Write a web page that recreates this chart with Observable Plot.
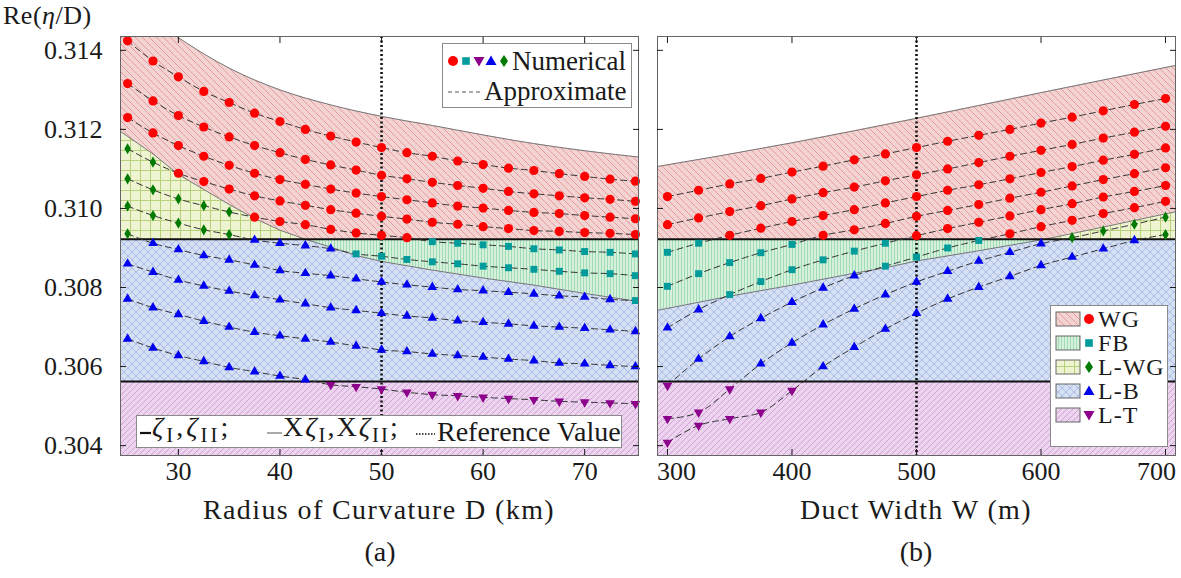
<!DOCTYPE html>
<html><head><meta charset="utf-8">
<script src="https://cdn.jsdelivr.net/npm/d3@7"></script>
<script src="https://cdn.jsdelivr.net/npm/@observablehq/plot@0.6"></script>
<style>
body{margin:0;background:#fff;}
#fig{position:relative;width:1181px;height:578px;font-family:"Liberation Serif","DejaVu Serif",serif;color:#1a1a1a;overflow:hidden}
.abs{position:absolute;white-space:nowrap}
.lg{position:absolute;background:#fff;border:1px solid #8a8a8a;box-sizing:border-box}
.row{display:flex;align-items:center}
.lg3 sub{font-size:0.74em;vertical-align:-0.3em}
</style></head><body>
<svg width="0" height="0" style="position:absolute"><defs>
<pattern id="pWG" width="7" height="7" patternUnits="userSpaceOnUse"><rect width="7" height="7" fill="#f3d2d2"/><path d="M0,0L7,7" stroke="#e39696" stroke-width="0.9"/></pattern>
<pattern id="pLT" width="6" height="6" patternUnits="userSpaceOnUse"><rect width="6" height="6" fill="#ecd4ef"/><path d="M0,6L6,0" stroke="#d09ad8" stroke-width="0.9"/></pattern>
<pattern id="pFB" width="3" height="3" patternUnits="userSpaceOnUse"><rect width="3" height="3" fill="#d5f1db"/><path d="M1.5,0V3" stroke="#93d6aa" stroke-width="0.8"/></pattern>
<pattern id="pLWG" width="10" height="10" patternUnits="userSpaceOnUse"><rect width="10" height="10" fill="#eef4d2"/><path d="M0,0.5H10M0.5,0V10" stroke="#b8d27a" stroke-width="1"/></pattern>
<pattern id="pLB" width="8" height="8" patternUnits="userSpaceOnUse"><rect width="8" height="8" fill="#d6e0f3"/><path d="M0,0L8,8M8,0L0,8" stroke="#90a8e0" stroke-width="0.6"/></pattern>
</defs></svg>
<div id="fig"></div>
<script>
// ---------- data ----------
const yDomain = [0.30375, 0.31435];
const yTicks = [0.304, 0.306, 0.308, 0.310, 0.312, 0.314];
const zetaI = 0.30922;   // upper threshold line
const zetaII = 0.30562;  // lower threshold line

// Panel (a): Radius of curvature D (km)
const radiusKm = [25,27.5,30,32.5,35,37.5,40,42.5,45,47.5,50,52.5,55,57.5,60,62.5,65,67.5,70,72.5,75];
const radiusTicks = [30,40,50,60,70];
const radiusRef = 50;
const seriesA = [
  [0.31424,0.31373,0.31333,0.31296,0.31268,0.31241,0.31220,0.31200,0.31183,0.31168,0.31154,0.31141,0.31132,0.31120,0.31111,0.31102,0.31096,0.31088,0.31081,0.31074,0.31069],
  [0.31316,0.31272,0.31235,0.31206,0.31181,0.31159,0.31141,0.31124,0.31110,0.31097,0.31084,0.31075,0.31066,0.31058,0.31051,0.31043,0.31037,0.31032,0.31027,0.31023,0.31018],
  [0.31230,0.31191,0.31159,0.31132,0.31109,0.31089,0.31073,0.31061,0.31049,0.31039,0.31030,0.31022,0.31014,0.31006,0.31001,0.30995,0.30990,0.30987,0.30982,0.30978,0.30974],
  [0.31151,0.31117,0.31089,0.31068,0.31049,0.31032,0.31019,0.31008,0.30997,0.30988,0.30980,0.30973,0.30965,0.30960,0.30954,0.30949,0.30944,0.30942,0.30939,0.30937,0.30934],
  [0.31075,0.31047,0.31024,0.31007,0.30991,0.30978,0.30967,0.30959,0.30947,0.30938,0.30932,0.30926,0.30916,0.30912,0.30908,0.30904,0.30898,0.30895,0.30891,0.30889,0.30885],
  [0.31006,0.30982,0.30963,0.30946,0.30934,0.30920,0.30912,0.30906,0.30898,0.30885,0.30879,0.30871,0.30865,0.30860,0.30854,0.30850,0.30846,0.30841,0.30837,0.30835,0.30830],
  [0.30936,0.30912,0.30896,0.30881,0.30870,0.30857,0.30843,0.30836,0.30830,0.30822,0.30814,0.30807,0.30801,0.30795,0.30792,0.30788,0.30784,0.30779,0.30776,0.30770,0.30767],
  [0.30860,0.30839,0.30819,0.30804,0.30791,0.30780,0.30769,0.30759,0.30749,0.30742,0.30735,0.30728,0.30723,0.30716,0.30712,0.30708,0.30703,0.30700,0.30697,0.30693,0.30689],
  [0.30771,0.30749,0.30732,0.30715,0.30700,0.30687,0.30678,0.30670,0.30662,0.30652,0.30642,0.30638,0.30632,0.30628,0.30624,0.30619,0.30615,0.30609,0.30607,0.30603,0.30600],
  [0.30670,0.30647,0.30628,0.30613,0.30598,0.30587,0.30576,0.30567,0.30554,0.30549,0.30543,0.30535,0.30529,0.30526,0.30522,0.30519,0.30516,0.30512,0.30510,0.30508,0.30506]
];
// regime of each numerical point: W=WG, F=FB, G=L-WG, B=L-B, T=L-T
const regimesA = [
  "WWWWWWWWWWWWWWWWWWWWW",
  "WWWWWWWWWWWWWWWWWWWWW",
  "WWWWWWWWWWWWWWWWWWWWW",
  "GGWWWWWWWWWWWWWWWWWWW",
  "GGGGGWWWWWWWFFFFFFFFF",
  "GGGGGBBBBFFFFFFFFFFFF",
  "GBBBBBBBBBBBBBBBBBBBF",
  "BBBBBBBBBBBBBBBBBBBBB",
  "BBBBBBBBBBBBBBBBBBBBB",
  "BBBBBBBBTTTTTTTTTTTTT"
];
const topEdgeA_x = [24, 30, 35, 40, 45, 50, 55, 60, 65, 70, 76];
const topEdgeA_y = [0.31545,0.31432,0.31355,0.31300,0.31262,0.31233,0.31210,0.31186,0.31164,0.31146,0.31128];
const splitEdgeA_x = [24, 27.5, 30, 32.5, 35, 37.5, 40, 42.5, 45, 47.5, 50, 55, 60, 65, 70, 76];
const splitEdgeA_y = [0.31200,0.31138,0.31086,0.31048,0.31010,0.30975,0.30945,0.30922,0.30902,0.30881,0.30866,0.30844,0.30824,0.30806,0.30785,0.30762];

// Panel (b): Duct width W (m)
const widthM = [300,325,350,375,400,425,450,475,500,525,550,575,600,625,650,675,700];
const widthTicks = [300,400,500,600,700];
const widthRef = 500;
const seriesB = [
  [0.31030,0.31046,0.31062,0.31076,0.31092,0.31107,0.31123,0.31138,0.31154,0.31170,0.31185,0.31200,0.31216,0.31231,0.31247,0.31263,0.31278],
  [0.30959,0.30976,0.30992,0.31007,0.31024,0.31040,0.31054,0.31070,0.31085,0.31100,0.31116,0.31132,0.31147,0.31162,0.31178,0.31193,0.31208],
  [0.30889,0.30912,0.30932,0.30950,0.30967,0.30982,0.30997,0.31014,0.31030,0.31046,0.31060,0.31075,0.31091,0.31106,0.31122,0.31137,0.31153],
  [0.30803,0.30835,0.30863,0.30888,0.30909,0.30932,0.30946,0.30962,0.30980,0.30995,0.31010,0.31026,0.31041,0.31057,0.31073,0.31088,0.31103],
  [0.30698,0.30744,0.30782,0.30815,0.30845,0.30870,0.30892,0.30912,0.30931,0.30949,0.30965,0.30981,0.30997,0.31012,0.31029,0.31043,0.31058],
  [0.30552,0.30619,0.30676,0.30722,0.30763,0.30799,0.30830,0.30854,0.30877,0.30900,0.30919,0.30936,0.30954,0.30970,0.30987,0.31002,0.31018],
  [0.30468,0.30484,0.30543,0.30607,0.30660,0.30706,0.30746,0.30782,0.30814,0.30841,0.30867,0.30889,0.30911,0.30926,0.30943,0.30960,0.30978],
  [0.30408,0.30451,0.30468,0.30484,0.30539,0.30600,0.30649,0.30695,0.30735,0.30771,0.30801,0.30828,0.30856,0.30877,0.30898,0.30919,0.30934]
];
const regimesB = [
  "WWWWWWWWWWWWWWWWW",
  "WWWWWWWWWWWWWWWWW",
  "FFWWWWWWWWWWWWWWW",
  "FFFFFWWWWWWWWWWWW",
  "BBFFFFFFWWWWWWWWW",
  "TBBBBBBFFFFWWWWWW",
  "TTTBBBBBBBBBBGGGG",
  "TTTTTBBBBBBBBBBBG"
];
const topEdgeB_x = [290, 400, 500, 600, 710];
const topEdgeB_y = [0.31105,0.31166,0.31228,0.31293,0.31363];
const splitEdgeB_x = [290, 350, 400, 450, 475, 500, 550, 603, 650, 710];
const splitEdgeB_y = [0.30741,0.30778,0.30806,0.30836,0.30850,0.30867,0.30893,0.30922,0.30953,0.30993];

// ---------- styles ----------
const triDown = {draw(ctx, size) {
  const y = -Math.sqrt(size / (Math.sqrt(3) * 3));
  ctx.moveTo(0, -y * 2); ctx.lineTo(-Math.sqrt(3) * y, y); ctx.lineTo(Math.sqrt(3) * y, y); ctx.closePath();
}};
const regimes = {
  W: {name: "WG",   color: "#ff0000", symbol: "circle",   r: 4.6, pattern: "pWG"},
  F: {name: "FB",   color: "#009b9b", symbol: "square",   r: 3.9, pattern: "pFB"},
  G: {name: "L-WG", color: "#007a00", symbol: "diamond",  r: 3.4, pattern: "pLWG"},
  B: {name: "L-B",  color: "#0000f0", symbol: "triangle", r: 3.6, pattern: "pLB"},
  T: {name: "L-T",  color: "#8c008c", symbol: triDown,    r: 3.6, pattern: "pLT"}
};

function panel({xDomain, xs, series, regs, topX, topY, splitX, splitY, xTicks, refX, width, marginLeft, marginRight, yLabels, edgeShift}) {
  const rows = [];
  series.forEach((vals, k) => vals.forEach((v, i) => rows.push({curve: k, x: xs[i], y: v, reg: regs[k][i]})));
  const top = topX.map((x, i) => ({x, y: topY[i]}));
  const split = splitX.map((x, i) => ({x, b: splitY[i]}));
  const span = xDomain.map(x => ({x}));
  const dots = Object.entries(regimes).map(([k, s]) =>
    Plot.dot(rows.filter(d => d.reg === k), {x: "x", y: "y", symbol: s.symbol, r: s.r, fill: s.color, stroke: "none"}));
  const blank = () => "";
  const xLabelAxes = edgeShift
    ? [Plot.axisX(xTicks.slice(1, -1), {anchor: "bottom", tickSize: 0, tickPadding: 6, label: null}),
       Plot.axisX(xTicks.slice(0, 1), {anchor: "bottom", tickSize: 0, tickPadding: 6, label: null, dx: edgeShift}),
       Plot.axisX(xTicks.slice(-1), {anchor: "bottom", tickSize: 0, tickPadding: 6, label: null, dx: -edgeShift})]
    : [Plot.axisX(xTicks, {anchor: "bottom", tickSize: 0, tickPadding: 6, label: null})];
  return Plot.plot({
    width, height: 490, marginLeft, marginRight, marginTop: 36, marginBottom: 35,
    x: {domain: xDomain, label: null},
    y: {domain: yDomain, label: null},
    style: {fontFamily: "'Liberation Serif', serif", fontSize: "26px", color: "#1a1a1a", background: "transparent", overflow: "visible"},
    marks: [
      Plot.areaY(span, {x: "x", y1: yDomain[0], y2: zetaII, fill: "url(#pLT)"}),
      Plot.areaY(span, {x: "x", y1: zetaII, y2: zetaI, fill: "url(#pLB)"}),
      Plot.areaY(top, {x: "x", y1: zetaI, y2: "y", fill: "url(#pWG)", curve: "monotone-x", clip: true}),
      Plot.areaY(split, {x: "x", y1: zetaI, y2: d => Math.max(d.b, zetaI), fill: "url(#pLWG)", clip: true}),
      Plot.areaY(split, {x: "x", y1: d => Math.min(d.b, zetaI), y2: zetaI, fill: "url(#pFB)", clip: true}),
      Plot.line(top, {x: "x", y: "y", stroke: "#777", strokeWidth: 1, curve: "monotone-x", clip: true}),
      Plot.line(split, {x: "x", y: "b", stroke: "#777", strokeWidth: 1, clip: true}),
      Plot.ruleY([zetaI, zetaII], {stroke: "#111", strokeWidth: 2}),
      Plot.ruleX([refX], {stroke: "#111", strokeWidth: 2.6, strokeDasharray: "2,2.5"}),
      Plot.line(rows, {x: "x", y: "y", z: "curve", stroke: "#333", strokeWidth: 1, strokeDasharray: "6,4", curve: "monotone-x", clip: true}),
      ...dots,
      Plot.frame({stroke: "#666", strokeWidth: 1}),
      ...xLabelAxes,
      Plot.axisX(xTicks, {anchor: "bottom", tickSize: -6, tickFormat: blank, label: null}),
      Plot.axisX(xTicks, {anchor: "top", tickSize: -6, tickFormat: blank, label: null}),
      Plot.axisY(yTicks, {anchor: "left", tickSize: 0, tickPadding: 18, label: null, tickFormat: yLabels ? d3.format(".3f") : blank}),
      Plot.axisY(yTicks, {anchor: "left", tickSize: -6, tickFormat: blank, label: null}),
      Plot.axisY(yTicks, {anchor: "right", tickSize: -6, tickFormat: blank, label: null})
    ]
  });
}

const fig = document.getElementById("fig");
const pa = panel({xDomain: [24.3, 75.3], xs: radiusKm, series: seriesA, regs: regimesA, topX: topEdgeA_x, topY: topEdgeA_y,
  splitX: splitEdgeA_x, splitY: splitEdgeA_y, xTicks: radiusTicks, refX: radiusRef, width: 650, marginLeft: 120, marginRight: 12, yLabels: true, edgeShift: 0});
pa.style.position = "absolute"; pa.style.left = "0px"; pa.style.top = "0px";
fig.appendChild(pa);
const pb = panel({xDomain: [292, 708], xs: widthM, series: seriesB, regs: regimesB, topX: topEdgeB_x, topY: topEdgeB_y,
  splitX: splitEdgeB_x, splitY: splitEdgeB_y, xTicks: widthTicks, refX: widthRef, width: 531, marginLeft: 7, marginRight: 6, yLabels: false, edgeShift: 9});
pb.style.position = "absolute"; pb.style.left = "650px"; pb.style.top = "0px";
fig.appendChild(pb);

// ---------- text & legends ----------
function addHTML(html) { fig.insertAdjacentHTML("beforeend", html); }
function marker(k, cx, cy) {
  const s = regimes[k];
  if (k === "W") return `<circle cx="${cx}" cy="${cy}" r="5" fill="${s.color}"/>`;
  if (k === "F") return `<rect x="${cx-3.8}" y="${cy-3.8}" width="7.6" height="7.6" fill="${s.color}"/>`;
  if (k === "G") return `<path d="M${cx},${cy-6}L${cx+4},${cy}L${cx},${cy+6}L${cx-4},${cy}Z" fill="${s.color}"/>`;
  if (k === "B") return `<path d="M${cx},${cy-5.5}L${cx+5.5},${cy+4}L${cx-5.5},${cy+4}Z" fill="${s.color}"/>`;
  return `<path d="M${cx},${cy+5.5}L${cx+5.5},${cy-4}L${cx-5.5},${cy-4}Z" fill="${s.color}"/>`;
}
addHTML(`<div class="abs" style="left:3px;top:1px;font-size:26px;line-height:30px;letter-spacing:0.5px">Re(<i>η</i>/D)</div>`);
addHTML(`<div class="abs" style="left:179px;width:400px;top:494px;text-align:center;font-size:28px;line-height:32px;letter-spacing:1.4px">Radius of Curvature D (km)</div>`);
addHTML(`<div class="abs" style="left:716px;width:400px;top:494px;text-align:center;font-size:28px;line-height:32px;letter-spacing:1.4px">Duct Width W (m)</div>`);
addHTML(`<div class="abs" style="left:280px;width:200px;top:536px;text-align:center;font-size:28px;line-height:32px">(a)</div>`);
addHTML(`<div class="abs" style="left:816px;width:200px;top:536px;text-align:center;font-size:28px;line-height:32px">(b)</div>`);

addHTML(`<div class="lg" style="left:442px;top:43px;width:190px;height:65px;font-size:27px;line-height:30px;padding:2px 0 0 3px">
 <div class="row" style="height:30px"><svg width="66" height="20">${marker("W",7,10)}${marker("F",20,10)}${marker("T",33,10)}${marker("B",45,10)}${marker("G",58,10)}</svg><span>Numerical</span></div>
 <div class="row" style="height:30px"><svg width="38" height="20"><line x1="2" y1="11" x2="36" y2="11" stroke="#555" stroke-width="1" stroke-dasharray="4,3"/></svg><span>Approximate</span></div>
</div>`);

const legendRows = ["W","F","G","B","T"].map(k => `<div class="row" style="height:24px"><svg width="44" height="22"><rect x="2" y="4" width="24" height="14" fill="url(#${regimes[k].pattern})" stroke="#666" stroke-width="1"/>${marker(k,35,11)}</svg><span style="line-height:22px">${regimes[k].name}</span></div>`).join("");
addHTML(`<div class="lg" style="left:1050px;top:305px;width:118px;height:142px;font-size:24px;letter-spacing:1px;line-height:22px;padding:1px 0 0 3px">${legendRows}</div>`);

addHTML(`<div class="lg lg3" style="left:136px;top:415px;width:486px;height:33px;font-size:28px;line-height:31px">
  <div class="abs row" style="left:2px;top:0;height:31px"><svg width="13" height="20"><line x1="1" y1="11" x2="12" y2="11" stroke="#111" stroke-width="2.2"/></svg><span style="letter-spacing:3px"><i>ζ</i><sub>I</sub>,<i>ζ</i><sub>II</sub>;</span></div>
  <div class="abs row" style="left:128px;top:0;height:31px"><svg width="18" height="20"><line x1="2" y1="11" x2="17" y2="11" stroke="#555" stroke-width="1"/></svg><span style="letter-spacing:2px">X<i>ζ</i><sub>I</sub>,X<i>ζ</i><sub>II</sub>;</span></div>
  <div class="abs row" style="left:278px;top:0;height:31px"><svg width="22" height="20"><line x1="1" y1="12" x2="20" y2="12" stroke="#111" stroke-width="1.6" stroke-dasharray="1.5,1.5"/></svg><span>Reference Value</span></div>
</div>`);
</script>
</body></html>
